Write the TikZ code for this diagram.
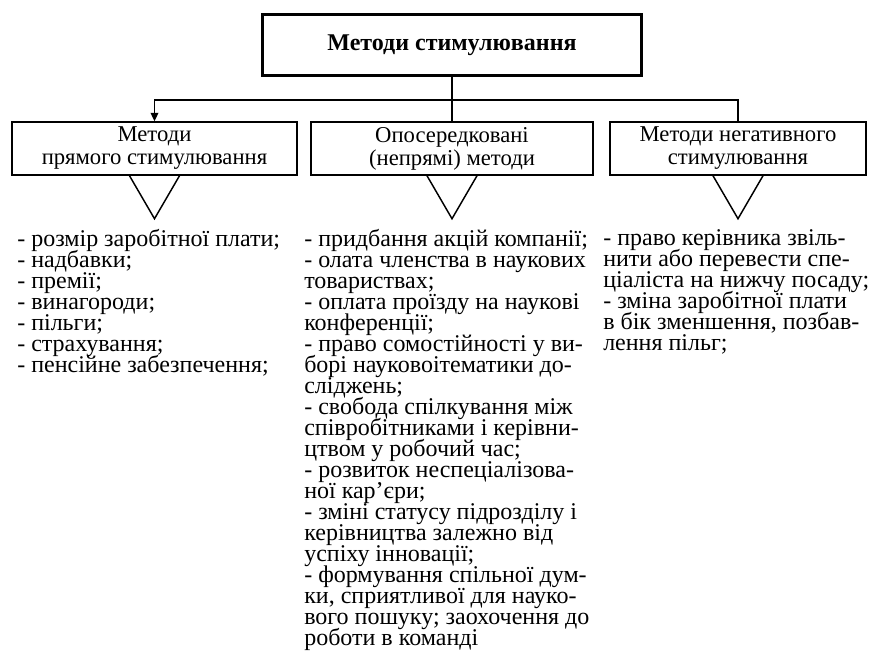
\documentclass[tikz,border=0pt]{standalone}
\usepackage{fontspec}
\setmainfont{Liberation Serif}
\usetikzlibrary{arrows.meta,positioning,calc}
\newcommand{\tightlines}{\lineskiplimit=-20pt\relax}
\tikzset{
  >={Triangle[length=2.2mm,width=2mm]},
  % blokky
  topbox/.style={draw,line width=2.2pt,minimum width=284pt,minimum height=46pt,
                 inner sep=0pt,font=\fontsize{18}{18}\selectfont\bfseries},
  catbox/.style={draw,line width=1.1pt,minimum height=39.75pt,inner sep=0pt,
                 align=center,font=\fontsize{17}{17.25}\selectfont\tightlines},
  lst/.style={align=left,inner sep=0pt,anchor=north west,
              font=\fontsize{18}{15.75}\selectfont\tightlines},
  con/.style={draw,line width=1.1pt},
  tri/.style={draw,line width=1.1pt,line join=miter},
}
\newcommand{\pointer}[1]{%
  \draw[tri] ($(#1.south)+(-25,0)$) -- ($(#1.south)+(0,43)$) -- ($(#1.south)+(25,0)$);}

\begin{document}
\begin{tikzpicture}[x=0.75pt,y=-0.75pt]
  \useasboundingbox (0,0) rectangle (869,653);
  \node[topbox] (top) at (452,45) {Методи стимулювання};
  \node[catbox,minimum width=213.75pt] (pryami) at (154.5,148.5)
    {Методи\\прямого стимулювання};
  \node[catbox,minimum width=211.5pt] (neprami) at (452,148.5)
    {Опосередковані\\(непрямі) методи};
  \node[catbox,minimum width=192pt] (negat) at (738,148.5)
    {Методи негативного\\стимулювання};
  \coordinate (shyna) at (452,100);
  \draw[con] (top.south) -- (neprami.north);
  \draw[con,->] (shyna) -| (pryami.north);
  \draw[con] (shyna) -| (negat.north);
  \pointer{pryami}
  \pointer{neprami}
  \pointer{negat}
  % perelik
  \node[lst] (l1) at (17,229) {- розмір заробітної плати;\\
    - надбавки;\\
    - премії;\\
    - винагороди;\\
    - пільги;\\
    - страхування;\\
    - пенсійне забезпечення;};
  \node[lst] (l2) at (304,229) {- придбання акцій компанії;\\
    - олата членства в наукових\\
    товариствах;\\
    - оплата проїзду на наукові\\
    конференції;\\
    - право сомостійності у ви-\\
    борі науковоітематики до-\\
    сліджень;\\
    - свобода спілкування між\\
    співробітниками і керівни-\\
    цтвом у робочий час;\\
    - розвиток неспеціалізова-\\
    ної кар'єри;\\
    - зміні статусу підрозділу і\\
    керівництва залежно від\\
    успіху інновації;\\
    - формування спільної дум-\\
    ки, сприятливої для науко-\\
    вого пошуку; заохочення до\\
    роботи в команді};
  \node[lst] (l3) at (603,229) {- право керівника звіль-\\
    нити або перевести спе-\\
    ціаліста на нижчу посаду;\\
    - зміна заробітної плати\\
    в бік зменшення, позбав-\\
    лення пільг;};
\end{tikzpicture}
\end{document}
